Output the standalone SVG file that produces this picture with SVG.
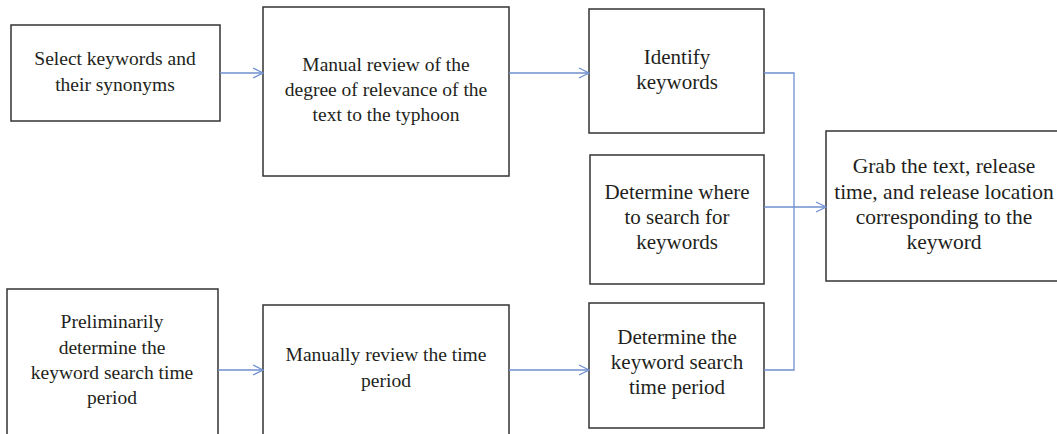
<svg xmlns="http://www.w3.org/2000/svg" width="1057" height="434" viewBox="0 0 1057 434">
<defs>
<marker id="arr" viewBox="0 0 12 12" refX="11" refY="6" markerWidth="12" markerHeight="12" markerUnits="userSpaceOnUse" orient="auto">
<path d="M1,1 L11,6 L1,11" fill="none" stroke="#6f8fcf" stroke-width="1.2"/>
</marker>
</defs>
<style>
.box{fill:#fff;stroke:#333;stroke-width:1.5}
text{font-family:"Liberation Serif","Times New Roman","DejaVu Serif",serif;font-size:19.5px;fill:#231f20;text-anchor:middle}
.r text{font-size:21px}
.g text{font-size:21.5px}
.c{fill:none;stroke:#6f8fcf;stroke-width:1.3}
</style>
<rect width="1057" height="434" fill="#fff"/>
<g id="n1"><rect class="box" x="11" y="25" width="209" height="96"/>
<text x="115" y="65">Select keywords and</text><text x="115" y="91">their synonyms</text></g>
<g id="n2"><rect class="box" x="263" y="7" width="246" height="169"/>
<text x="386" y="71">Manual review of the</text><text x="386" y="96">degree of relevance of the</text><text x="386" y="121">text to the typhoon</text></g>
<g id="n3" class="r"><rect class="box" x="589" y="9" width="175" height="124"/>
<text x="677" y="64">Identify</text><text x="677" y="89">keywords</text></g>
<g id="n4" class="r"><rect class="box" x="590" y="155" width="174" height="129"/>
<text x="677" y="199">Determine where</text><text x="677" y="224">to search for</text><text x="677" y="249">keywords</text></g>
<g id="n5" class="g"><rect class="box" x="826" y="131" width="232" height="150"/>
<text x="944" y="173">Grab the text, release</text><text x="944" y="199">time, and release location</text><text x="944" y="224">corresponding to the</text><text x="944" y="249">keyword</text></g>
<g id="n6" class="r"><rect class="box" x="589" y="303" width="175" height="125"/>
<text x="677" y="344">Determine the</text><text x="677" y="369">keyword search</text><text x="677" y="394">time period</text></g>
<g id="n7"><rect class="box" x="7" y="289" width="211" height="160"/>
<text x="112" y="328">Preliminarily</text><text x="112" y="354">determine the</text><text x="112" y="379">keyword search time</text><text x="112" y="404">period</text></g>
<g id="n8"><rect class="box" x="263" y="305" width="246" height="150"/>
<text x="386" y="361">Manually review the time</text><text x="386" y="387">period</text></g>
<g id="connectors">
<line class="c" x1="220" y1="73" x2="263" y2="73" marker-end="url(#arr)"/>
<line class="c" x1="509" y1="73" x2="589" y2="73" marker-end="url(#arr)"/>
<line class="c" x1="218" y1="370" x2="263" y2="370" marker-end="url(#arr)"/>
<line class="c" x1="509" y1="370" x2="589" y2="370" marker-end="url(#arr)"/>
<path class="c" d="M764,73 H794 V370 H764"/>
<line class="c" x1="764" y1="207" x2="826" y2="207" marker-end="url(#arr)"/>
</g>
</svg>
